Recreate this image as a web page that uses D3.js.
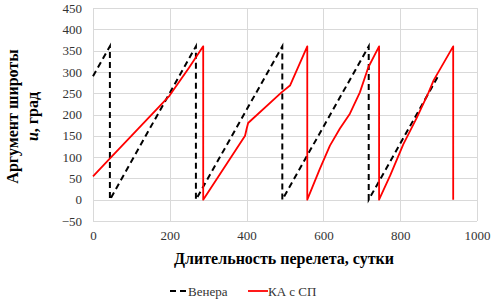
<!DOCTYPE html>
<html lang="ru">
<head>
<meta charset="UTF-8">
<title>Аргумент широты</title>
<script src="https://d3js.org/d3.v7.min.js"></script>
<style>
  body { margin: 0; background: #fff; }
  svg { display: block; font-family: "Liberation Serif", "Times New Roman", serif; }
  .grid line { stroke: #d9d9d9; stroke-width: 1; }
  .tick text { font-size: 13px; fill: #333; font-family: "Liberation Serif", "Times New Roman", serif; }
</style>
</head>
<body>
<div id="chart"></div>
<script>
// Венера (dashed)
var venusDays = [0, 44, 44, 268, 268, 493, 493, 718, 718, 900];
var venusArg  = [290, 360, 0, 360, 0, 360, 0, 360, 0, 292];

// КА с СП (red)
var kaDays = [0, 43, 100, 199, 250, 287, 287,
              396, 400, 404, 491, 513, 558, 558,
              591, 617, 643, 669, 695, 717, 745, 745,
              774, 808, 843, 874, 887, 938, 938];
var kaArg  = [55, 96, 150, 244, 310, 360, 0,
              150, 166, 180, 252, 268, 360, 0,
              73, 127, 167, 202, 252, 311, 360, 0,
              57, 130, 192, 252, 280, 360, 0];

var xTicks = [0, 200, 400, 600, 800, 1000];
var yTicks = [-50, 0, 50, 100, 150, 200, 250, 300, 350, 400, 450];

var W = 494, H = 301;
var margin = {left: 93, right: 17, top: 8, bottom: 80};

var svg = d3.select("#chart").append("svg")
    .attr("width", W).attr("height", H);

var x = d3.scaleLinear().domain([0, 1000]).range([margin.left, W - margin.right]);
var y = d3.scaleLinear().domain([-50, 450]).range([H - margin.bottom, margin.top]);

// grid
var grid = svg.append("g").attr("class", "grid");
grid.selectAll("line.h").data(yTicks).enter().append("line")
    .attr("x1", x(0)).attr("x2", x(1000))
    .attr("y1", d => Math.round(y(d)) + 0.5).attr("y2", d => Math.round(y(d)) + 0.5);
grid.selectAll("line.v").data(xTicks).enter().append("line")
    .attr("y1", y(-50)).attr("y2", y(450))
    .attr("x1", d => Math.round(x(d)) + 0.5).attr("x2", d => Math.round(x(d)) + 0.5);

// axes (labels only)
var yAxis = svg.append("g")
    .attr("transform", "translate(" + (x(0) - 4) + ",0)")
    .call(d3.axisLeft(y).tickValues(yTicks).tickSize(0).tickPadding(7).tickFormat(d3.format("d")));
yAxis.select(".domain").remove();

var xAxis = svg.append("g")
    .attr("transform", "translate(0," + (y(-50) + 3) + ")")
    .call(d3.axisBottom(x).tickValues(xTicks).tickSize(0).tickPadding(7).tickFormat(d3.format("d")));
xAxis.select(".domain").remove();
yAxis.attr("font-family", null); xAxis.attr("font-family", null);

// lines
var line = d3.line().x(d => x(d[0])).y(d => y(d[1]));

svg.append("path")
    .datum(venusDays.map((d, i) => [d, venusArg[i]]))
    .attr("fill", "none")
    .attr("stroke", "#000")
    .attr("stroke-width", 2)
    .attr("stroke-dasharray", "6,4")
    .attr("d", line);

svg.append("path")
    .datum(kaDays.map((d, i) => [d, kaArg[i]]))
    .attr("fill", "none")
    .attr("stroke", "#ff0000")
    .attr("stroke-width", 1.8)
    .attr("stroke-linejoin", "round")
    .attr("d", line);

// axis titles
svg.append("text")
    .attr("x", 284)
    .attr("y", 264)
    .attr("text-anchor", "middle")
    .attr("font-size", 16)
    .attr("font-weight", "bold")
    .text("Длительность перелета, сутки");

var yt = svg.append("text")
    .attr("transform", "translate(0," + ((y(-50) + y(450)) / 2 + 2) + ") rotate(-90)")
    .attr("text-anchor", "middle")
    .attr("font-size", 16)
    .attr("font-weight", "bold");
yt.append("tspan").attr("x", 0).attr("y", 18).text("Аргумент широты");
var l2 = yt.append("tspan").attr("x", 0).attr("y", 38);
l2.append("tspan").attr("font-style", "italic").text("u");
l2.append("tspan").text(", град");

// legend
var lg = svg.append("g").attr("transform", "translate(0,291)");
lg.append("line").attr("x1", 170).attr("x2", 188).attr("y1", 0).attr("y2", 0)
    .attr("stroke", "#000").attr("stroke-width", 2).attr("stroke-dasharray", "6,4");
lg.append("text").attr("x", 188).attr("y", 4.5).attr("font-size", 13).attr("fill", "#333").text("Венера");
lg.append("line").attr("x1", 248).attr("x2", 268).attr("y1", 0).attr("y2", 0)
    .attr("stroke", "#ff0000").attr("stroke-width", 1.8);
lg.append("text").attr("x", 268).attr("y", 4.5).attr("font-size", 13).attr("fill", "#333").text("КА с СП");
</script>
</body>
</html>
